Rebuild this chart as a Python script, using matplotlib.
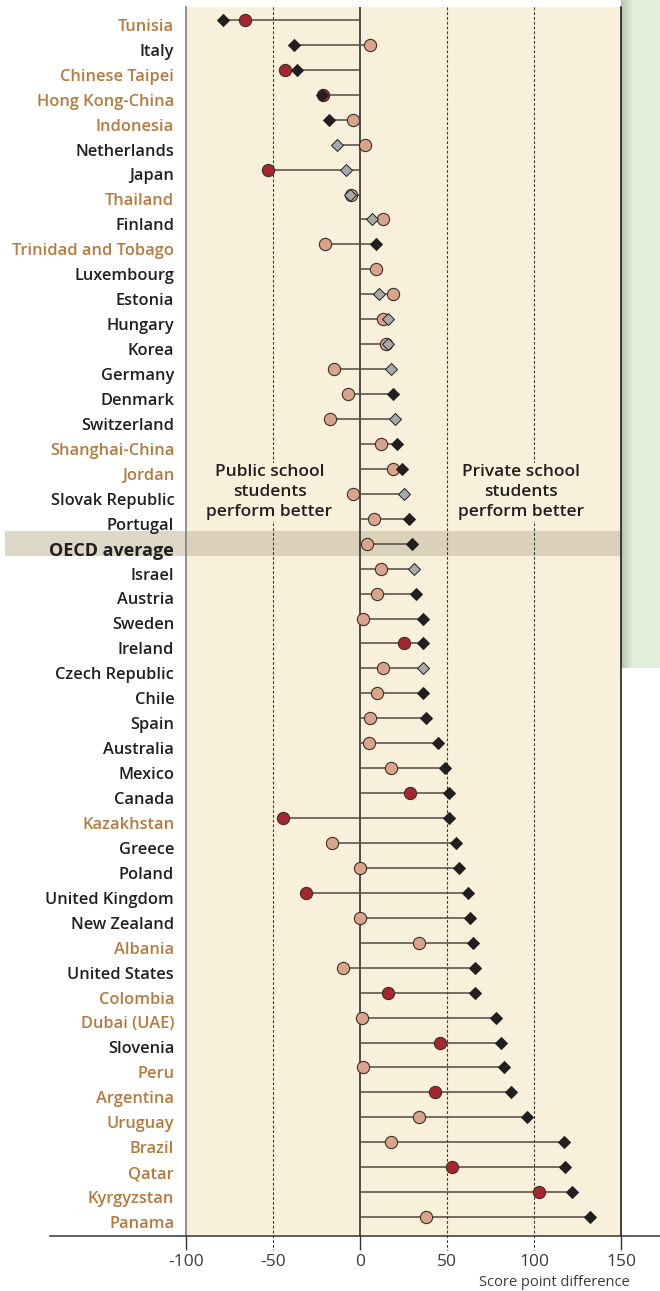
import matplotlib
matplotlib.use('Agg')
import matplotlib.pyplot as plt
import matplotlib.transforms as mtransforms
from matplotlib.patches import Rectangle
from matplotlib.lines import Line2D
import numpy as np

plt.rcParams['font.family'] = ['Open Sans', 'DejaVu Sans']

##################
#      data      #
##################
countries = ["Tunisia", "Italy", "Chinese Taipei", "Hong Kong-China", "Indonesia",
             "Netherlands", "Japan", "Thailand", "Finland", "Trinidad and Tobago",
             "Luxembourg", "Estonia", "Hungary", "Korea", "Germany", "Denmark",
             "Switzerland", "Shanghai-China", "Jordan", "Slovak Republic", "Portugal",
             "OECD average", "Israel", "Austria", "Sweden", "Ireland", "Czech Republic",
             "Chile", "Spain", "Australia", "Mexico", "Canada", "Kazakhstan", "Greece",
             "Poland", "United Kingdom", "New Zealand", "Albania", "United States",
             "Colombia", "Dubai (UAE)", "Slovenia", "Peru", "Argentina", "Uruguay",
             "Brazil", "Qatar", "Kyrgyzstan", "Panama"]

# partner countries / economies get the brown label
partner = [1, 0, 1, 1, 1, 0, 0, 1, 0, 1,
           0, 0, 0, 0, 0, 0, 0, 1, 1, 0,
           0, 0, 0, 0, 0, 0, 0, 0, 0, 0,
           0, 0, 1, 0, 0, 0, 0, 1, 0, 1,
           1, 0, 1, 1, 1, 1, 1, 1, 1]

# diamonds: observed difference (private - public)
diff_raw = [-79, -38, -36, -22, -18, -13, -8, -6, 7, 9,
            np.nan, 11, 16, 16, 18, 19, 20, 21, 24, 25,
            28, 30, 31, 32, 36, 36, 36, 36, 38, 45,
            49, 51, 51, 55, 57, 62, 63, 65, 66, 66,
            78, 81, 83, 87, 96, 117, 118, 122, 132]
raw_sig = [1, 1, 1, 1, 1, 0, 0, 0, 0, 1,
           0, 0, 0, 0, 0, 1, 0, 1, 1, 0,
           1, 1, 0, 1, 1, 1, 0, 1, 1, 1,
           1, 1, 1, 1, 1, 1, 1, 1, 1, 1,
           1, 1, 1, 1, 1, 1, 1, 1, 1]

# circles: difference after accounting for socio-economic status
diff_ses = [-66, 6, -43, -21, -4, 3, -53, -5, 13, -20,
            9, 19, 13, 15, -15, -7, -17, 12, 19, -4,
            8, 4, 12, 10, 2, 25, 13, 10, 6, 5,
            18, 29, -44, -16, 0, -31, 0, 34, -10, 16,
            1, 46, 2, 43, 34, 18, 53, 103, 38]
ses_sig = [1, 0, 1, 1, 0, 0, 1, 0, 0, 0,
           0, 0, 0, 0, 0, 0, 0, 0, 0, 0,
           0, 0, 0, 0, 0, 1, 0, 0, 0, 0,
           0, 1, 1, 0, 0, 1, 0, 0, 0, 1,
           0, 1, 0, 1, 0, 0, 1, 1, 0]

xticks = [-100, -50, 0, 50, 100, 150]

##################
#     colours    #
##################
beige = "#f8f0da"
dark = "#231f20"
brown = "#b7793d"
n = len(countries)
rows = np.arange(n)

fig = plt.figure(figsize=(6.6, 12.91), dpi=100)

# green panel with a soft shadow on the right
gp = fig.add_axes([621/660, 1-668/1291, 39/660, 668/1291], zorder=0)
shadow = np.array([0.72, 0.77, 0.70])
green = np.array([0.886, 0.937, 0.851])
w = np.clip(np.linspace(0, 1, 39) / 0.3, 0, 1)
grad = shadow[None, :] * (1 - w[:, None]) + green[None, :] * w[:, None]
gp.imshow(grad[None, :, :], aspect='auto', extent=[0, 1, 0, 1])
gp.axis('off')

# main axes
ax = fig.add_axes([186/660, 1-1236/1291, 435/660, 1229/1291], zorder=1)
ax.set_facecolor(beige)
top = -0.52
bottom = (1236-20)/24.94
ax.set_xlim(-100, 150)
ax.set_ylim(bottom, top)

# OECD average band
trans = mtransforms.blended_transform_factory(fig.transFigure, ax.transData)
oecd = countries.index("OECD average")
ax.add_patch(Rectangle((5/660, oecd-0.5), 181/660, 1, transform=trans,
                       color="#ddd7c8", lw=0, clip_on=False, zorder=0.5))
ax.add_patch(Rectangle((-100, oecd-0.5), 250, 1, color="#dbd0b8", lw=0, zorder=0.5))

# dashed reference lines, running a bit below the axis
for v in [-50, 50, 100]:
    ax.plot([v, v], [top, bottom+0.55], color="#3a3a3a", lw=0.8,
            dashes=(2.5, 1.8), clip_on=False, zorder=1)
ax.axvline(0, color=dark, lw=1.1, zorder=2)

# stems from zero to the farthest marker
for i in rows:
    vals = [0, diff_ses[i]] + ([] if np.isnan(diff_raw[i]) else [diff_raw[i]])
    ax.plot([min(vals), max(vals)], [i, i], color="#4f4a44", lw=1.1,
            solid_capstyle='butt', zorder=2)

# circles then diamonds on top
for i in rows:
    fc = "#a6262d" if ses_sig[i] else "#d9a48a"
    ax.plot(diff_ses[i], i, 'o', ms=8.8, mfc=fc, mec="#3d302a", mew=0.8, zorder=3)
    if not np.isnan(diff_raw[i]):
        fc = dark if raw_sig[i] else "#a7a9ac"
        ax.plot(diff_raw[i], i, 'D', ms=6.4, mfc=fc, mec=dark, mew=0.7, zorder=4)

# annotations
for x, s in [(-52, "Public school\nstudents\nperform better"),
             (92.5, "Private school\nstudents\nperform better")]:
    ax.text(x, 18.93, s, ha='center', va='center', fontsize=12.5, color=dark,
            weight='semibold', linespacing=1.3, zorder=5,
            bbox=dict(facecolor=beige, edgecolor='none', pad=1))

# y labels
ax.set_yticks(rows)
ax.set_yticklabels(countries)
ax.tick_params(axis='y', length=0, pad=8.5)
offset = mtransforms.ScaledTranslation(0, -3.5/72, fig.dpi_scale_trans)
for lab, p, name in zip(ax.get_yticklabels(), partner, countries):
    lab.set_fontsize(11.8)
    lab.set_fontweight('semibold')
    lab.set_color(brown if p else dark)
    lab.set_transform(lab.get_transform() + offset)
    if name == "OECD average":
        lab.set_fontweight('bold')
        lab.set_fontsize(13)

# x ticks
ax.set_xticks(xticks)
ax.set_xticklabels([str(t) for t in xticks])
ax.tick_params(axis='x', length=10, width=1, color="#333333", pad=3,
               labelsize=12.5, labelcolor="#3a3a3a")
for t, v in zip(ax.xaxis.get_major_ticks(), xticks):
    if v in (-50, 50, 100):
        t.tick1line.set_visible(False)

# spines
ax.spines['top'].set_visible(False)
ax.spines['bottom'].set_visible(False)
ax.spines['left'].set_color("#8f8f8f")
ax.spines['left'].set_linewidth(1.4)
ax.spines['right'].set_color(dark)
ax.spines['right'].set_linewidth(1.2)

# long axis line across the figure
y0 = 1 - 1236/1291
fig.add_artist(Line2D([50/660, 1], [y0, y0], color="#333333", lw=1.1,
                      transform=fig.transFigure, zorder=3))

fig.text(630/660, 1-1283/1291, "Score point difference", ha='right', va='center',
         fontsize=10.5, color="#3a3a3a")

fig.savefig("out.png", dpi=100)
